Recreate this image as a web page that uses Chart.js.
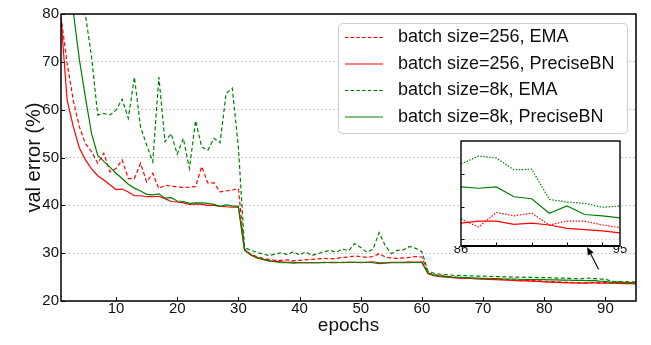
<!DOCTYPE html>
<html><head><meta charset="utf-8">
<script src="https://cdn.jsdelivr.net/npm/chart.js@4/dist/chart.umd.min.js"></script>
<style>
html,body{margin:0;padding:0;background:#fff;}
#wrap{position:relative;width:651px;height:345px;overflow:hidden;}
#main{position:absolute;left:0;top:0;width:651px;height:345px;}
#inset{position:absolute;left:430px;top:131px;width:210px;height:134px;}
</style></head><body>
<div id="wrap"><canvas id="main" width="651" height="345"></canvas><canvas id="inset" width="210" height="134"></canvas></div>
<script>
// ---------------- data ----------------
const epochs = [1,2,3,4,5,6,7,8,9,10,11,12,13,14,15,16,17,18,19,20,21,22,23,24,25,26,27,28,29,30,
 31,32,33,34,35,36,37,38,39,40,41,42,43,44,45,46,47,48,49,50,51,52,53,54,55,56,57,58,59,60,
 61,62,63,64,65,66,67,68,69,70,71,72,73,74,75,76,77,78,79,80,81,82,83,84,85,86,87,88,89,90,91,92,93,94,95];

const ema256 = [79.5,69.7,62.0,56.4,52.9,51.2,48.8,50.9,47.0,47.7,49.5,45.6,45.6,48.8,44.9,46.7,43.5,44.2,44.0,43.9,43.7,43.8,43.9,48.1,44.7,44.7,42.8,43.0,43.2,43.5,
 30.9,29.8,29.3,28.9,28.7,28.5,28.5,28.6,28.4,28.5,28.6,28.7,28.8,28.9,28.8,28.9,29.1,29.2,29.4,29.3,29.1,29.3,29.9,29.2,29.0,28.9,29.0,29.1,29.3,29.2,
 25.9,25.5,25.3,25.15,25.0,24.95,24.85,24.8,24.7,24.65,24.6,24.55,24.5,24.45,24.4,24.35,24.3,24.25,24.2,24.1,24.05,24.0,23.95,23.9,23.85,
 23.81,23.69,23.91,23.86,23.90,23.72,23.78,23.78,23.72,23.68];

const pbn256 = [79.0,62.0,56.5,52.0,49.5,47.6,46.2,45.3,44.3,43.3,43.4,42.8,42.0,42.0,41.8,41.8,41.9,41.4,40.8,40.7,40.5,40.2,40.3,40.2,40.0,40.0,39.8,39.7,39.6,39.6,
 30.6,29.6,29.0,28.7,28.4,28.3,28.2,28.1,28.1,28.0,28.0,28.0,28.0,28.1,28.0,28.0,28.1,28.1,28.1,28.0,28.1,28.2,28.0,28.0,28.1,28.1,28.1,28.2,28.1,28.2,
 25.7,25.3,25.1,25.0,24.9,24.8,24.75,24.7,24.6,24.55,24.5,24.45,24.4,24.35,24.3,24.2,24.2,24.15,24.1,24.0,23.95,23.9,23.85,23.8,23.8,
 23.75,23.78,23.78,23.73,23.75,23.72,23.67,23.65,23.63,23.60];

const ema8k = [100,94,87,80.5,79.8,71.0,58.9,59.2,58.9,59.9,62.2,58.2,66.8,56.4,52.6,49.1,66.8,53.3,55.0,50.7,54.0,47.7,57.7,52.2,51.5,54.0,53.1,63.4,64.5,52.2,
 31.2,30.6,30.2,29.8,29.5,29.8,30.1,29.7,30.3,29.6,30.3,29.5,29.9,30.3,30.6,30.2,30.9,30.5,32.0,31.2,30.2,30.8,34.3,31.6,29.9,30.6,30.7,31.4,31.0,30.3,
 26.2,25.8,25.6,25.5,25.4,25.35,25.3,25.25,25.2,25.2,25.15,25.1,25.1,25.05,25.0,25.0,24.95,24.95,24.9,24.9,24.85,24.8,24.8,24.75,24.7,
 24.65,24.77,24.74,24.56,24.57,24.11,24.07,24.05,23.99,24.01];

const pbn8k = [95,87,80.5,70.5,62.5,55.0,50.5,49.2,48.0,46.7,45.6,44.4,43.6,43.0,42.3,42.2,42.4,41.5,41.6,40.9,40.8,40.4,40.5,40.5,40.4,40.2,39.8,40.1,39.9,39.8,
 30.8,29.7,29.1,28.7,28.4,28.2,28.0,28.0,27.9,28.0,28.0,28.0,28.0,28.0,28.1,28.1,28.0,28.1,28.1,28.1,28.1,28.0,27.8,27.9,28.0,28.0,28.0,28.0,28.1,28.0,
 25.8,25.4,25.2,25.1,25.0,24.95,24.9,24.85,24.8,24.75,24.7,24.7,24.65,24.6,24.6,24.55,24.5,24.5,24.45,24.45,24.4,24.4,24.35,24.35,24.3,
 24.30,24.28,24.30,24.15,24.12,23.90,24.01,23.88,23.86,23.83];

const seriesLabels = ['batch size=256, EMA','batch size=256, PreciseBN','batch size=8k, EMA','batch size=8k, PreciseBN'];
const xTickLabels = [10,20,30,40,50,60,70,80,90];
const yTickLabels = [20,30,40,50,60,70,80];
const insetXLabels = [86,95];
const insetXMarks = [88,90,92,94];
const insetYMarks = [23.5,24.0,24.5];
const insetStart = 86;
const arrowFrom = [88.9, 26.6];
const arrowTo = [87.0, 31.3];

// ---------------- styling ----------------
const FONT = "'Liberation Sans', Arial, Helvetica, sans-serif";
const RED = '#ff0000', GREEN = '#008000';
const styles = [
  {color: RED, dash: [4, 2.5], idash: [1.5, 1.5]},
  {color: RED, dash: [], idash: []},
  {color: GREEN, dash: [4, 2.5], idash: [1.5, 1.5]},
  {color: GREEN, dash: [], idash: []}
];
const seriesValues = [ema256, pbn256, ema8k, pbn8k];

function mkDatasets(fromEpoch, inset) {
  return seriesValues.map((vals, i) => {
    const pts = [];
    epochs.forEach((e, k) => { if (e >= fromEpoch) pts.push({x: e, y: vals[k]}); });
    return {
      label: seriesLabels[i], data: pts,
      borderColor: styles[i].color, borderWidth: 1.2,
      borderDash: inset ? styles[i].idash : styles[i].dash,
      pointRadius: 0, tension: 0, fill: false, order: 3 - i
    };
  });
}

const mainDeco = {
  id: 'mainDeco',
  afterDatasetsDraw(chart) {
    const {ctx, chartArea: ca, scales: {x, y}} = chart;
    ctx.save();
    ctx.setLineDash([]);
    ctx.strokeStyle = '#000';
    // inward ticks
    ctx.lineWidth = 1;
    yTickLabels.forEach(v => {
      const py = Math.round(y.getPixelForValue(v)) + 0.5;
      ctx.beginPath(); ctx.moveTo(ca.left, py); ctx.lineTo(ca.left + 4, py); ctx.stroke();
    });
    xTickLabels.forEach(v => {
      const px = Math.round(x.getPixelForValue(v)) + 0.5;
      ctx.beginPath(); ctx.moveTo(px, ca.bottom); ctx.lineTo(px, ca.bottom - 4); ctx.stroke();
    });
    // frame
    ctx.lineWidth = 1.5;
    ctx.strokeRect(ca.left, ca.top, ca.right - ca.left, ca.bottom - ca.top);
    // arrow (annotation in data coordinates)
    const x0 = x.getPixelForValue(arrowFrom[0]), y0 = y.getPixelForValue(arrowFrom[1]);
    const x1 = x.getPixelForValue(arrowTo[0]), y1 = y.getPixelForValue(arrowTo[1]);
    const ang = Math.atan2(y1 - y0, x1 - x0);
    const hl = 8, hw = 3.2;
    const bxp = x1 - hl * Math.cos(ang), byp = y1 - hl * Math.sin(ang);
    ctx.lineWidth = 1.1;
    ctx.beginPath(); ctx.moveTo(x0, y0); ctx.lineTo(bxp, byp); ctx.stroke();
    ctx.fillStyle = '#000';
    ctx.beginPath();
    ctx.moveTo(x1, y1);
    ctx.lineTo(bxp + hw * Math.sin(ang), byp - hw * Math.cos(ang));
    ctx.lineTo(bxp - hw * Math.sin(ang), byp + hw * Math.cos(ang));
    ctx.closePath(); ctx.fill();
    // legend
    const W = 289, H = 110;
    const lx = ca.right - 9 - W, ly = ca.top + 9;
    ctx.beginPath();
    ctx.roundRect(lx + 0.5, ly + 0.5, W, H, 4);
    ctx.fillStyle = 'rgba(255,255,255,0.92)'; ctx.fill();
    ctx.strokeStyle = '#cfcfcf'; ctx.lineWidth = 1; ctx.stroke();
    ctx.font = '18px ' + FONT;
    ctx.textBaseline = 'middle'; ctx.textAlign = 'left';
    seriesLabels.forEach((t, i) => {
      const ry = ly + 14.5 + i * 26.5;
      ctx.strokeStyle = styles[i].color; ctx.lineWidth = 1.2;
      ctx.setLineDash(styles[i].dash.length ? [3.5, 2.2] : []);
      ctx.beginPath(); ctx.moveTo(lx + 7, ry); ctx.lineTo(lx + 45, ry); ctx.stroke();
      ctx.setLineDash([]);
      ctx.fillStyle = '#111';
      ctx.fillText(t, lx + 60, ry);
    });
    ctx.restore();
  }
};

new Chart(document.getElementById('main'), {
  type: 'line',
  data: {datasets: mkDatasets(epochs[0], false)},
  options: {
    responsive: false, animation: false, devicePixelRatio: 1,
    layout: {padding: {left: 0, right: 15, top: 14, bottom: 0}},
    plugins: {legend: {display: false}, tooltip: {enabled: false}},
    scales: {
      x: {
        type: 'linear', min: 1, max: 95,
        afterFit(s) { s.height = 44; },
        afterBuildTicks(s) { s.ticks = xTickLabels.map(v => ({value: v})); },
        grid: {display: false, drawTicks: false}, border: {display: false},
        ticks: {autoSkip: false, maxRotation: 0, padding: -1, color: '#111', font: {family: FONT, size: 15}},
        title: {display: true, text: 'epochs', color: '#111', font: {family: FONT, size: 19}, padding: {top: 0, bottom: 8}}
      },
      y: {
        min: 20, max: 80,
        afterFit(s) { s.width = 61; },
        afterBuildTicks(s) { s.ticks = yTickLabels.map(v => ({value: v})); },
        grid: {color: 'rgba(0,0,0,0.2)', lineWidth: 1, drawTicks: false},
        border: {display: false, dash: [2, 2]},
        ticks: {padding: 2, color: '#111', font: {family: FONT, size: 15}},
        title: {display: true, text: 'val error (%)', color: '#111', font: {family: FONT, size: 20}, padding: {top: 22, bottom: 0}}
      }
    }
  },
  plugins: [mainDeco]
});

const insetDeco = {
  id: 'insetDeco',
  beforeDatasetsDraw(chart) {
    const {ctx, chartArea: ca, scales: {y}} = chart;
    ctx.save();
    ctx.fillStyle = '#fff';
    ctx.fillRect(ca.left, ca.top, ca.right - ca.left, ca.bottom - ca.top);
    ctx.strokeStyle = 'rgba(0,0,0,0.15)'; ctx.lineWidth = 1; ctx.setLineDash([2, 2]);
    const gy = Math.round(y.getPixelForValue(insetYMarks[0])) + 0.5;
    ctx.beginPath(); ctx.moveTo(ca.left, gy); ctx.lineTo(ca.right, gy); ctx.stroke();
    ctx.restore();
  },
  afterDraw(chart) {
    const {ctx, chartArea: ca, scales: {x, y}} = chart;
    ctx.save();
    ctx.setLineDash([]);
    ctx.strokeStyle = '#000'; ctx.lineWidth = 1;
    insetYMarks.forEach(v => {
      const py = Math.round(y.getPixelForValue(v)) + 0.5;
      ctx.beginPath(); ctx.moveTo(ca.left, py); ctx.lineTo(ca.left + 3.5, py); ctx.stroke();
    });
    insetXMarks.forEach(v => {
      const px = Math.round(x.getPixelForValue(v)) + 0.5;
      ctx.beginPath(); ctx.moveTo(px, ca.bottom); ctx.lineTo(px, ca.bottom - 3.5); ctx.stroke();
    });
    ctx.lineWidth = 1.4;
    ctx.strokeRect(ca.left, ca.top, ca.right - ca.left, ca.bottom - ca.top);
    ctx.lineWidth = 2;
    ctx.beginPath(); ctx.moveTo(ca.left, ca.bottom); ctx.lineTo(ca.right, ca.bottom); ctx.stroke();
    ctx.restore();
  }
};

new Chart(document.getElementById('inset'), {
  type: 'line',
  data: {datasets: mkDatasets(insetStart, true)},
  options: {
    responsive: false, animation: false, devicePixelRatio: 1,
    layout: {padding: {left: 31, right: 20, top: 10, bottom: 0}},
    plugins: {legend: {display: false}, tooltip: {enabled: false}},
    scales: {
      x: {
        type: 'linear', min: 86, max: 95,
        afterFit(s) { s.height = 19; },
        afterBuildTicks(s) { s.ticks = insetXLabels.map(v => ({value: v})); },
        grid: {display: false, drawTicks: false}, border: {display: false},
        ticks: {autoSkip: false, maxRotation: 0, padding: -4, color: '#111', font: {family: FONT, size: 13}}
      },
      y: {display: false, min: 23.4, max: 25.0}
    }
  },
  plugins: [insetDeco]
});
</script>
</body></html>
